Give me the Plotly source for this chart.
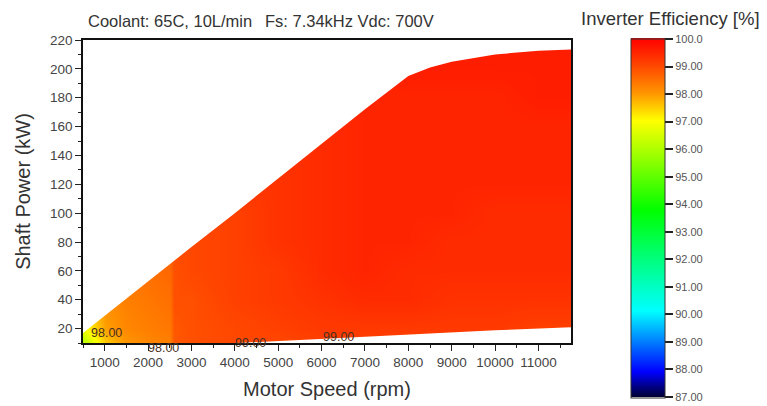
import plotly.graph_objects as go

# ---- data ----
speeds = [500, 1000, 1500, 2000, 2500, 2600, 3000, 4000, 5000, 6000, 7000, 8000, 9000, 10000, 11000, 11750]
powers = [10, 20, 40, 60, 80, 100, 120, 140, 160, 180, 200, 220]
efficiency = [
    [96.0, 97.5, 98.0, 98.2, 98.3, 98.8, 98.9, 99.0, 99.0, 99.1, 99.1, 99.1, 99.1, 99.1, 99.1, 99.1],
    [96.8, 97.9, 98.2, 98.3, 98.4, 98.8, 98.9, 99.0, 99.1, 99.2, 99.2, 99.2, 99.2, 99.2, 99.1, 99.1],
    [97.6, 98.1, 98.3, 98.4, 98.5, 98.9, 98.9, 99.1, 99.2, 99.3, 99.4, 99.4, 99.3, 99.3, 99.3, 99.3],
    [97.8, 98.2, 98.4, 98.5, 98.6, 98.9, 99.0, 99.1, 99.2, 99.4, 99.5, 99.4, 99.4, 99.4, 99.4, 99.4],
    [98.0, 98.3, 98.5, 98.6, 98.7, 98.9, 99.0, 99.1, 99.3, 99.4, 99.5, 99.5, 99.4, 99.4, 99.4, 99.4],
    [98.0, 98.4, 98.6, 98.7, 98.8, 99.0, 99.0, 99.1, 99.3, 99.4, 99.5, 99.5, 99.5, 99.4, 99.4, 99.4],
    [98.1, 98.5, 98.7, 98.8, 98.9, 99.0, 99.1, 99.2, 99.3, 99.4, 99.5, 99.5, 99.5, 99.5, 99.5, 99.5],
    [98.2, 98.6, 98.8, 98.9, 99.0, 99.1, 99.1, 99.2, 99.3, 99.4, 99.5, 99.5, 99.5, 99.5, 99.5, 99.5],
    [98.3, 98.7, 98.9, 99.0, 99.0, 99.1, 99.2, 99.2, 99.3, 99.4, 99.5, 99.5, 99.5, 99.5, 99.5, 99.5],
    [98.4, 98.8, 99.0, 99.0, 99.1, 99.1, 99.2, 99.3, 99.4, 99.4, 99.5, 99.5, 99.5, 99.5, 99.6, 99.6],
    [98.5, 98.9, 99.0, 99.1, 99.1, 99.2, 99.2, 99.3, 99.4, 99.5, 99.5, 99.6, 99.6, 99.6, 99.6, 99.6],
    [98.5, 98.9, 99.0, 99.1, 99.1, 99.2, 99.2, 99.3, 99.4, 99.5, 99.5, 99.6, 99.6, 99.6, 99.6, 99.6],
]

# operating envelope (max / min shaft power vs speed)
upper_speed = [500, 1000, 2000, 3000, 4000, 5000, 6000, 7000, 8000, 8500, 9000, 10000, 11000, 11750]
upper_power = [17, 29, 53, 76.5, 100, 124, 148, 172, 195, 201, 205, 210, 212.5, 213.5]
lower_speed = [500, 4000, 5500, 7000, 8500, 10000, 11750]
lower_power = [10, 10, 12, 14.5, 16.5, 18.8, 21]

# contour labels
label_text = ["98.00", "98.00", "99.00", "99.00"]
label_speed = [1050, 2350, 4350, 6400]
label_power = [17, 10, 10.2, 14]

cbar_vals = [87, 88, 89, 90, 91, 92, 93, 94, 95, 96, 97, 98, 99, 100]
cbar_text = ["87.00", "88.00", "89.00", "90.00", "91.00", "92.00", "93.00",
             "94.00", "95.00", "96.00", "97.00", "98.00", "99.00", "100.0"]

title_left = "Coolant: 65C, 10L/min"
title_right = "Fs: 7.34kHz Vdc: 700V"
cbar_title = "Inverter Efficiency [%]"

colorscale = [
    [0.0, "rgb(0,0,50)"],
    [0.07, "rgb(0,0,255)"],
    [0.24, "rgb(0,255,255)"],
    [0.52, "rgb(0,255,0)"],
    [0.77, "rgb(255,255,0)"],
    [0.846, "rgb(255,150,0)"],
    [0.923, "rgb(255,70,0)"],
    [1.0, "rgb(255,0,0)"],
]

FONT = "Liberation Sans, Arial, sans-serif"
L, R, T, B = 83, 196, 40, 63
W, H = 767, 406
PW, PH = W - L - R, H - T - B


def px_x(px):
    return (px - L) / PW


def px_y(py):
    return (H - B - py) / PH


fig = go.Figure()
fig.add_trace(go.Heatmap(
    x=speeds, y=powers, z=efficiency, zsmooth="best",
    zmin=86.98, zmax=100.02, colorscale=colorscale, hoverinfo="skip",
    colorbar=dict(
        tickmode="array", tickvals=cbar_vals, ticktext=cbar_text,
        ticks="outside", ticklen=8, tickwidth=1.5, tickcolor="#222",
        tickfont=dict(size=11, color="#555", family=FONT),
        ticklabeloverflow="allow",
        thickness=34, thicknessmode="pixels",
        len=359, lenmode="pixels",
        x=px_x(631), xanchor="left", xpad=0,
        y=px_y(218), yanchor="middle", ypad=0,
        outlinewidth=1, outlinecolor="#333",
    ),
))

# white masks outside the operating envelope
fig.add_trace(go.Scatter(
    x=upper_speed + [upper_speed[-1], upper_speed[0]],
    y=upper_power + [240, 240],
    fill="toself", fillcolor="white", mode="lines",
    line=dict(width=0, color="white"), hoverinfo="skip", showlegend=False,
))
fig.add_trace(go.Scatter(
    x=lower_speed + [lower_speed[-1], lower_speed[0]],
    y=lower_power + [0, 0],
    fill="toself", fillcolor="white", mode="lines",
    line=dict(width=0, color="white"), hoverinfo="skip", showlegend=False,
))

annotations = []
label_shift = [0, -5, 0, 0]
for t, sx, py, sh in zip(label_text, label_speed, label_power, label_shift):
    annotations.append(dict(x=sx, y=py, xref="x", yref="y", text=t, showarrow=False,
                            yshift=sh, font=dict(size=12.5, color="#4a3020", family=FONT)))
annotations += [
    dict(x=px_x(86), y=px_y(21), xref="paper", yref="paper", text=title_left,
         xanchor="left", yanchor="middle", showarrow=False,
         font=dict(size=16.5, color="#333", family=FONT)),
    dict(x=px_x(263), y=px_y(21), xref="paper", yref="paper", text=title_right,
         xanchor="left", yanchor="middle", showarrow=False,
         font=dict(size=16.5, color="#333", family=FONT)),
    dict(x=px_x(762), y=px_y(19), xref="paper", yref="paper", text=cbar_title,
         xanchor="right", yanchor="middle", showarrow=False,
         font=dict(size=18.5, color="#333", family=FONT)),
]

axis_common = dict(
    showline=True, linecolor="#111", linewidth=1.5, mirror=True,
    showgrid=False, zeroline=False, ticks="outside", ticklen=6, tickwidth=1,
    tickcolor="#222", tickfont=dict(size=13.5, color="#444", family=FONT),
)

fig.update_layout(
    width=W, height=H,
    margin=dict(l=L, r=R, t=T, b=B, autoexpand=False),
    paper_bgcolor="white", plot_bgcolor="white",
    showlegend=False,
    font=dict(family=FONT, color="#333"),
    xaxis=dict(range=[500, 11750], tickmode="linear", tick0=0, dtick=1000, tickformat="d",
               minor=dict(dtick=500, tick0=0, ticks="outside", ticklen=3, tickcolor="#222"),
               title=dict(text="Motor Speed (rpm)", font=dict(size=20, color="#333", family=FONT), standoff=13),
               **axis_common),
    yaxis=dict(range=[10, 220], tickmode="linear", tick0=0, dtick=20,
               minor=dict(dtick=10, tick0=0, ticks="outside", ticklen=3, tickcolor="#222"),
               title=dict(text="Shaft Power (kW)", font=dict(size=20, color="#333", family=FONT), standoff=14),
               **axis_common),
    annotations=annotations,
)

fig.write_html("out.html", config={"displayModeBar": False},
               post_script="document.body.style.margin='0';")
